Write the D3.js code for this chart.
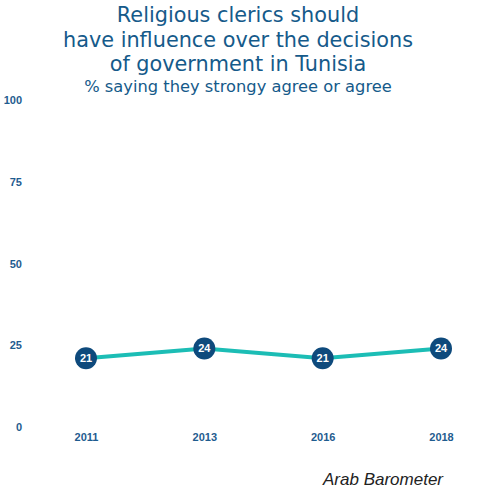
<!DOCTYPE html>
<html>
<head>
<meta charset="utf-8">
<script src="https://cdn.jsdelivr.net/npm/d3@7"></script>
<style>
body { margin: 0; background: #fff; }
</style>
</head>
<body>
<svg width="477" height="490"></svg>
<script>
var years = ["2011", "2013", "2016", "2018"];
var values = [21, 24, 21, 24];
var yTicks = [0, 25, 50, 75, 100];
var titleLines = ["Religious clerics should", "have influence over the decisions", "of government in Tunisia"];
var subtitle = "% saying they strongy agree or agree";

var svg = d3.select("svg");

var x = d3.scalePoint().domain(years).range([86, 441]);
var y = d3.scaleLinear().domain([0, 100]).range([427, 100]);

// title
svg.selectAll(".title")
  .data(titleLines)
  .enter().append("text")
  .attr("x", 238)
  .attr("y", function(d, i) { return 22 + i * 24.6; })
  .attr("text-anchor", "middle")
  .attr("font-family", "'DejaVu Sans', sans-serif")
  .attr("font-size", "20.8px")
  .attr("fill", "#155a8a")
  .text(function(d) { return d; });

svg.append("text")
  .attr("x", 238)
  .attr("y", 92)
  .attr("text-anchor", "middle")
  .attr("font-family", "'DejaVu Sans', sans-serif")
  .attr("font-size", "16.3px")
  .attr("fill", "#155a8a")
  .text(subtitle);

// y axis labels
svg.append("g")
  .attr("transform", "translate(22,0)")
  .call(d3.axisLeft(y).tickValues(yTicks).tickSize(0).tickPadding(0))
  .call(function(g) { g.select(".domain").remove(); })
  .selectAll("text")
  .attr("font-family", "'Liberation Sans', Arial, sans-serif")
  .attr("font-weight", "bold")
  .attr("font-size", "11px")
  .attr("fill", "#1f5c8f");

// x axis labels
svg.append("g")
  .attr("transform", "translate(0,433)")
  .call(d3.axisBottom(x).tickSize(0).tickPadding(0))
  .call(function(g) { g.select(".domain").remove(); })
  .selectAll("text")
  .attr("font-family", "'Liberation Sans', Arial, sans-serif")
  .attr("font-weight", "bold")
  .attr("font-size", "11px")
  .attr("fill", "#1f5c8f");

var data = years.map(function(d, i) { return { year: d, value: values[i] }; });

svg.append("path")
  .datum(data)
  .attr("fill", "none")
  .attr("stroke", "#1cbdb5")
  .attr("stroke-width", 4)
  .attr("d", d3.line()
    .x(function(d) { return x(d.year); })
    .y(function(d) { return y(d.value); }));

var pts = svg.selectAll(".pt")
  .data(data)
  .enter().append("g")
  .attr("transform", function(d) { return "translate(" + x(d.year) + "," + y(d.value) + ")"; });

pts.append("circle")
  .attr("r", 11)
  .attr("fill", "#0e4a7c");

pts.append("text")
  .attr("text-anchor", "middle")
  .attr("dy", "0.35em")
  .attr("font-family", "'Liberation Sans', Arial, sans-serif")
  .attr("font-weight", "bold")
  .attr("font-size", "11px")
  .attr("fill", "#fff")
  .text(function(d) { return d.value; });

svg.append("text")
  .attr("x", 443)
  .attr("y", 485)
  .attr("text-anchor", "end")
  .attr("font-family", "'Liberation Sans', Arial, sans-serif")
  .attr("font-style", "italic")
  .attr("font-size", "17px")
  .attr("fill", "#222")
  .text("Arab Barometer");
</script>
</body>
</html>
